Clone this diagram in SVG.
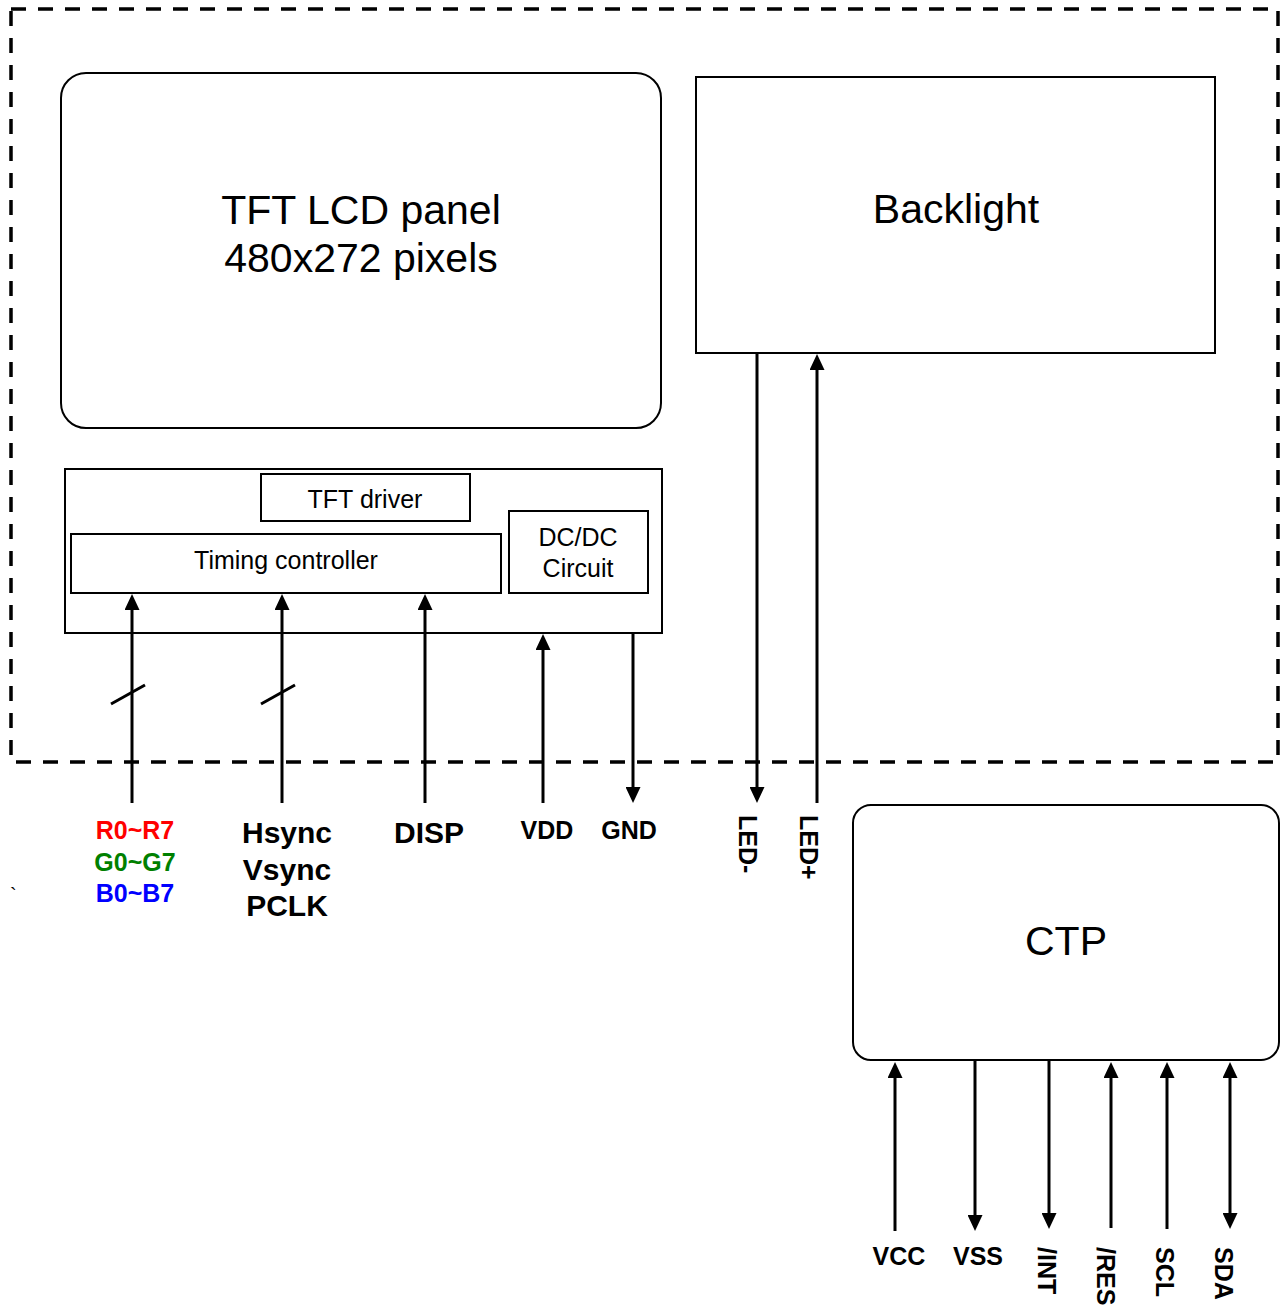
<svg xmlns="http://www.w3.org/2000/svg" width="1280" height="1308" viewBox="0 0 1280 1308">
<style>
.box{fill:#fff;stroke:#000;stroke-width:2}
.t{font-family:"Liberation Sans",Arial,sans-serif;fill:#000}
.big{font-size:41px;text-anchor:middle}
.mid{font-size:25px;text-anchor:middle}
.lbl{font-weight:bold;font-size:25px}
.lbl2{font-weight:bold;font-size:30px;text-anchor:middle}
.c{text-anchor:middle}
.w{fill:none;stroke:#000;stroke-width:3}
</style>
<defs>
<marker id="ah" markerUnits="userSpaceOnUse" markerWidth="16" markerHeight="15" refX="2" refY="7.5" orient="auto-start-reverse">
<path d="M0,0 L16,7.5 L0,15 z" fill="#000"/>
</marker>
</defs>
<rect id="boundary" x="11" y="9" width="1267" height="753" fill="none" stroke="#000" stroke-width="3.5" stroke-dasharray="15 12"/>
<g id="lcd-panel">
<rect class="box" x="61" y="73" width="600" height="355" rx="25"/>
<text class="t big" x="361" y="224">TFT LCD panel</text>
<text class="t big" x="361" y="272">480x272 pixels</text>
</g>
<g id="backlight">
<rect class="box" x="696" y="77" width="519" height="276"/>
<text class="t big" x="956" y="223">Backlight</text>
</g>
<g id="driver-board">
<rect class="box" x="65" y="469" width="597" height="164"/>
</g>
<g id="tft-driver">
<rect class="box" x="261" y="474" width="209" height="47"/>
<text class="t mid" x="365" y="508">TFT driver</text>
</g>
<g id="timing-controller">
<rect class="box" x="71" y="534" width="430" height="59"/>
<text class="t mid" x="286" y="569">Timing controller</text>
</g>
<g id="dcdc">
<rect class="box" x="509" y="511" width="139" height="82"/>
<text class="t mid" x="578" y="546">DC/DC</text>
<text class="t mid" x="578" y="577">Circuit</text>
</g>
<g id="ctp">
<rect class="box" x="853" y="805" width="426" height="255" rx="18"/>
<text class="t big" x="1066" y="955">CTP</text>
</g>
<g id="connectors">
<path class="w" d="M132,803 V608" marker-end="url(#ah)"/>
<path class="w" d="M282,803 V608" marker-end="url(#ah)"/>
<path class="w" d="M425,803 V608" marker-end="url(#ah)"/>
<path class="w" d="M543,803 V648" marker-end="url(#ah)"/>
<path class="w" d="M633,634 V789" marker-end="url(#ah)"/>
<path class="w" d="M757,354 V789" marker-end="url(#ah)"/>
<path class="w" d="M817,803 V368" marker-end="url(#ah)"/>
<path class="w" d="M111,704 L145,685"/>
<path class="w" d="M261,704 L295,685"/>
<path class="w" d="M895,1231 V1076" marker-end="url(#ah)"/>
<path class="w" d="M975,1061 V1217" marker-end="url(#ah)"/>
<path class="w" d="M1049,1061 V1215" marker-end="url(#ah)"/>
<path class="w" d="M1111,1228 V1076" marker-end="url(#ah)"/>
<path class="w" d="M1167,1229 V1076" marker-end="url(#ah)"/>
<path class="w" d="M1230,1076 V1215" marker-start="url(#ah)" marker-end="url(#ah)"/>
</g>
<g id="labels">
<text class="t lbl c" x="135" y="839" style="fill:#ff0000">R0~R7</text>
<text class="t lbl c" x="135" y="871" style="fill:#008000">G0~G7</text>
<text class="t lbl c" x="135" y="902" style="fill:#0000ff">B0~B7</text>
<text class="t" x="10" y="902" style="font-size:20px">`</text>
<text class="t lbl2" x="287" y="843">Hsync</text>
<text class="t lbl2" x="287" y="880">Vsync</text>
<text class="t lbl2" x="287" y="916">PCLK</text>
<text class="t lbl2" x="429" y="843">DISP</text>
<text class="t lbl c" x="547" y="839">VDD</text>
<text class="t lbl c" x="629" y="839">GND</text>
<text class="t lbl" transform="translate(739,815) rotate(90)">LED-</text>
<text class="t lbl" transform="translate(800,815) rotate(90)">LED+</text>
<text class="t lbl c" x="899" y="1265">VCC</text>
<text class="t lbl c" x="978" y="1265">VSS</text>
<text class="t lbl" transform="translate(1038,1247) rotate(90)">/INT</text>
<text class="t lbl" transform="translate(1097,1247) rotate(90)">/RES</text>
<text class="t lbl" transform="translate(1156,1247) rotate(90)">SCL</text>
<text class="t lbl" transform="translate(1215,1247) rotate(90)">SDA</text>
</g>
</svg>
